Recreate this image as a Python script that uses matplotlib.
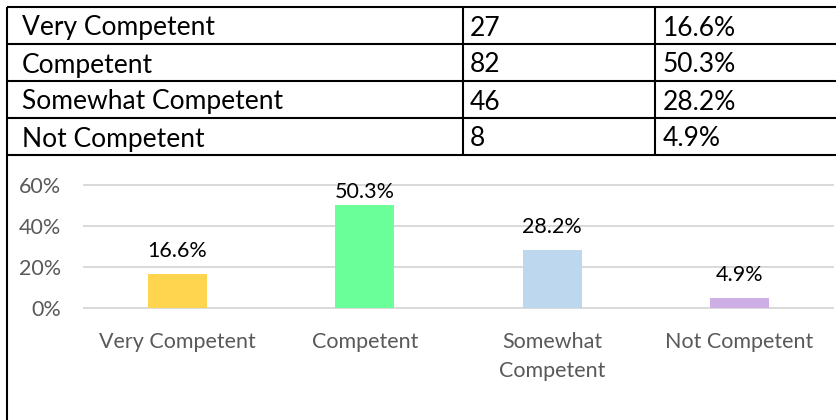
import matplotlib.pyplot as plt

categories = ['Very Competent', 'Competent', 'Somewhat Competent', 'Not Competent']
counts = [27, 82, 46, 8]
shares = [16.6, 50.3, 28.2, 4.9]
axis_labels = ['Very Competent', 'Competent', 'Somewhat\nCompetent', 'Not Competent']
bar_colors = ['#FFD54F', '#6AFF98', '#BDD7EE', '#CDAFE6']
y_ticks = [0, 20, 40, 60]

plt.rcParams['font.family'] = ['Lato', 'DejaVu Sans']

W, H = 837, 420
fig = plt.figure(figsize=(W / 100, H / 100), dpi=100)

# summary table, laid out in pixel units over the whole figure
tab = fig.add_axes([0, 0, 1, 1])
tab.set_xlim(0, W)
tab.set_ylim(H, 0)
tab.axis('off')

row_h = 37
top = 7
col_x = [7, 463, 655]
text_x = [22, 470, 663]
bottom = top + row_h * len(categories)
line_kw = dict(color='black', lw=1.5, solid_capstyle='butt')

for i in range(len(categories) + 1):
    y = top + i * row_h
    tab.plot([col_x[0], W], [y, y], **line_kw)
# the left edge runs on down around the chart
tab.plot([col_x[0], col_x[0]], [top, H], **line_kw)
for x in col_x[1:]:
    tab.plot([x, x], [top, bottom], **line_kw)

for i, (cat, n, s) in enumerate(zip(categories, counts, shares)):
    base = top + i * row_h + 28.5
    for x, txt in zip(text_x, [cat, str(n), f'{s}%']):
        tab.text(x, base, txt, fontsize=19, ha='left', va='baseline', color='black')

# bar chart of the shares
ax = fig.add_axes([84 / W, (H - 308) / H, 749 / W, 123 / H])
xs = list(range(len(categories)))
ax.bar(xs, shares, width=0.315, color=bar_colors, zorder=3)
ax.set_xlim(-0.5, len(categories) - 0.5)
ax.set_ylim(0, 60)
ax.set_yticks(y_ticks)
ax.set_yticklabels([f'{t}%' for t in y_ticks])
ax.set_xticks(xs)
ax.set_xticklabels(axis_labels, linespacing=1.6)
ax.yaxis.grid(True, color='#D9D9D9', lw=1.4)
for gl in ax.get_ygridlines():
    gl.set_clip_on(False)
ax.set_axisbelow(True)
for sp in ax.spines.values():
    sp.set_visible(False)
ax.tick_params(length=0, labelsize=15.5, labelcolor='#595959')
ax.tick_params(axis='y', pad=16.5)
ax.tick_params(axis='x', pad=17)

for xi, v in zip(xs, shares):
    ax.text(xi, min(v + 8.5, 53.9), f'{v}%', ha='center', va='baseline',
            fontsize=15.5, color='black')

fig.savefig('out.png', dpi=100)
